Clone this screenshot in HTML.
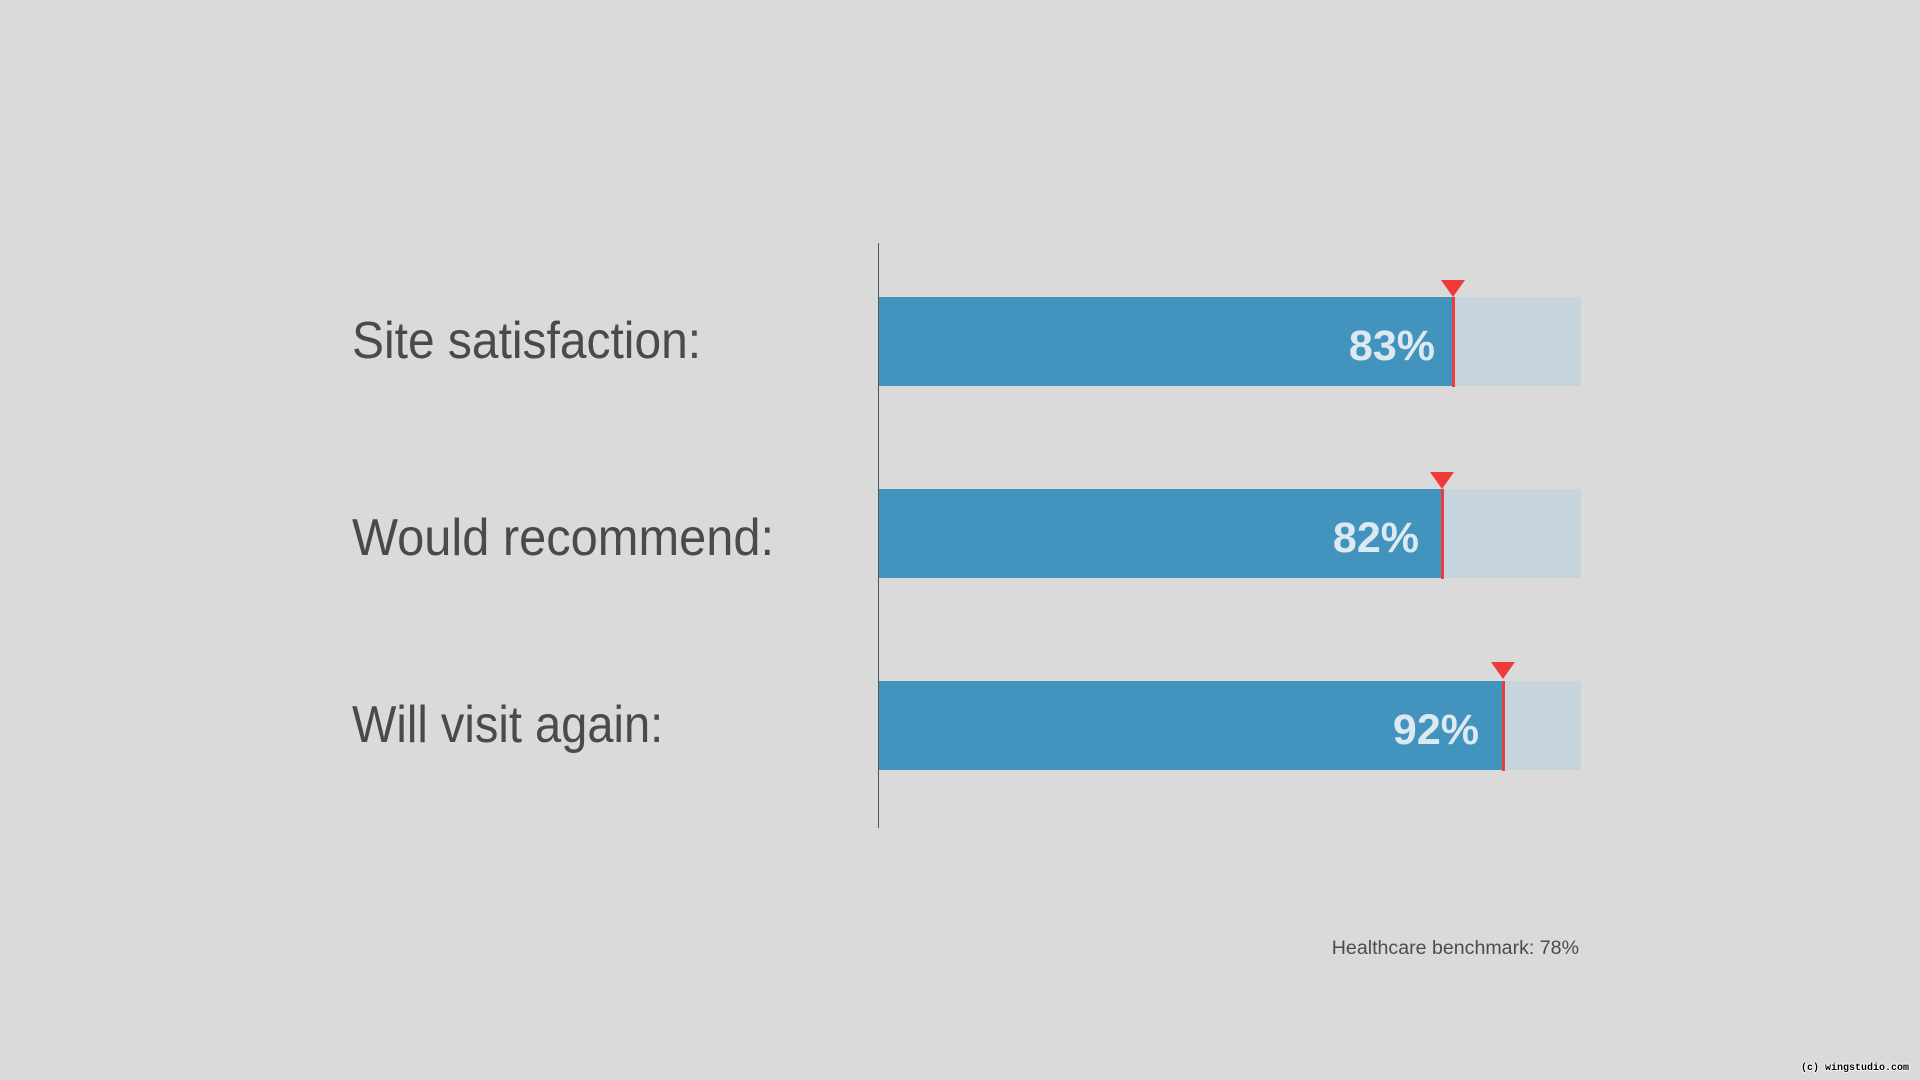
<!DOCTYPE html>
<html>
<head>
<meta charset="utf-8">
<style>
  html, body { margin:0; padding:0; }
  body {
    width:1920px; height:1080px; position:relative; overflow:hidden;
    background:#dadada;
    font-family:"Liberation Sans", sans-serif;
  }
  .lbl {
    position:absolute; left:352px; font-size:52px; color:#4a4a4a;
    line-height:1; white-space:nowrap;
    transform-origin:left top;
  }
  .axis { position:absolute; left:878px; top:243px; width:1px; height:585px; background:#555; }
  .bg { position:absolute; left:879px; width:702px; height:89px; background:#c6d4dd; }
  .bar { position:absolute; left:879px; height:89px; background:#4294be; }
  .val {
    position:absolute; font-weight:bold; font-size:43px; color:#dde9f1;
    line-height:1; text-align:right; white-space:nowrap;
  }
  .mark { position:absolute; width:3px; height:90px; background:#ee3c3c; }
  .tri {
    position:absolute; width:0; height:0;
    border-left:12.5px solid transparent; border-right:12.5px solid transparent;
    border-top:17px solid #f03a3a;
  }
  .bench {
    position:absolute; right:341px; top:939px; font-size:19.6px; color:#4c4c4c;
    line-height:1; white-space:nowrap;
  }
  .wm {
    position:absolute; left:1801px; top:1064px; font-family:"Liberation Mono", monospace;
    font-weight:bold; font-size:10px; color:#000; line-height:1; white-space:nowrap;
    text-shadow:1px 0 #fff, -1px 0 #fff, 0 1px #fff, 0 -1px #fff;
  }
</style>
</head>
<body>
  <div class="lbl" style="top:315px; transform:scaleX(0.922);">Site satisfaction:</div>
  <div class="lbl" style="top:512px; transform:scaleX(0.938);">Would recommend:</div>
  <div class="lbl" style="top:699px; transform:scaleX(0.905);">Will visit again:</div>

  <div class="axis"></div>

  <!-- Bar 1 -->
  <div class="bg" style="top:297px;"></div>
  <div class="bar" style="top:297px; width:574px;"></div>
  <div class="val" style="top:325px; right:485px;">83%</div>
  <div class="mark" style="left:1452px; top:297px;"></div>
  <div class="tri" style="left:1441px; top:280px;"></div>

  <!-- Bar 2 -->
  <div class="bg" style="top:489px;"></div>
  <div class="bar" style="top:489px; width:563px;"></div>
  <div class="val" style="top:517px; right:501px;">82%</div>
  <div class="mark" style="left:1441px; top:489px;"></div>
  <div class="tri" style="left:1430px; top:472px;"></div>

  <!-- Bar 3 -->
  <div class="bg" style="top:681px;"></div>
  <div class="bar" style="top:681px; width:624px;"></div>
  <div class="val" style="top:709px; right:441px;">92%</div>
  <div class="mark" style="left:1502px; top:681px;"></div>
  <div class="tri" style="left:1491px; top:662px;"></div>

  <div class="bench">Healthcare benchmark: 78%</div>
  <div class="wm">(c) wingstudio.com</div>
</body>
</html>
